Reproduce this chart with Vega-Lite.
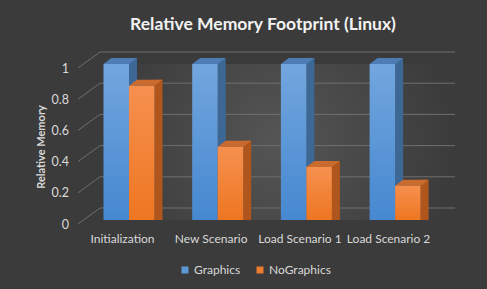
{
  "$schema": "https://vega.github.io/schema/vega-lite/v6.json",
  "width": 355,
  "height": 156,
  "autosize": {"type": "none"},
  "padding": {"left": 100, "top": 64, "right": 32, "bottom": 69},
  "background": "#3b3b3b",
  "config": {
    "font": "Lato",
    "view": {"stroke": null, "fill": {"gradient": "radial", "x1": 0.5, "y1": 0.5, "x2": 0.5, "y2": 0.5, "r1": 0, "r2": 0.5, "stops": [{"offset": 0, "color": "#555555"}, {"offset": 1, "color": "#3b3b3b"}]}}
  },
  "title": {
    "text": "Relative Memory Footprint (Linux)",
    "font": "Lato",
    "fontSize": 17.5,
    "fontWeight": "bold",
    "color": "#f2f2f2",
    "anchor": "middle",
    "frame": "group",
    "dx": -14.5,
    "offset": 18
  },
  "datasets": {
    "bars": [
      {"scenario": "Initialization", "series": "Graphics", "value": 1},
      {"scenario": "New Scenario", "series": "Graphics", "value": 1},
      {"scenario": "Load Scenario 1", "series": "Graphics", "value": 1},
      {"scenario": "Load Scenario 2", "series": "Graphics", "value": 1},
      {"scenario": "Initialization", "series": "NoGraphics", "value": 0.86},
      {"scenario": "New Scenario", "series": "NoGraphics", "value": 0.47},
      {"scenario": "Load Scenario 1", "series": "NoGraphics", "value": 0.34},
      {"scenario": "Load Scenario 2", "series": "NoGraphics", "value": 0.22}
    ],
    "ticks": [{"v": 0}, {"v": 0.2}, {"v": 0.4}, {"v": 0.6}, {"v": 0.8}, {"v": 1}]
  },
  "layer": [
    {
      "data": {"name": "ticks"},
      "mark": {"type": "rule", "color": "#6f6f6f", "strokeWidth": 1, "yOffset": -12},
      "encoding": {
        "y": {"field": "v", "type": "quantitative", "scale": {"domain": [0, 1], "nice": false},
          "axis": {"values": [0, 0.2, 0.4, 0.6, 0.8, 1], "labels": false, "offset": 22, "ticks": false, "domain": false, "grid": false,
            "title": "Relative Memory", "titleFont": "Lato", "titleFontSize": 11, "titleFontWeight": "bold", "titleColor": "#d9d9d9", "titlePadding": 31.5, "titleY": 82.5}}
      }
    },
    {
      "data": {"name": "ticks"},
      "mark": {"type": "rule", "color": "#6f6f6f", "strokeWidth": 1, "yOffset": 4, "y2Offset": -12},
      "encoding": {
        "x": {"value": -22},
        "x2": {"value": 0},
        "y": {"field": "v", "type": "quantitative"},
        "y2": {"field": "v"}
      }
    },
    {
      "data": {"name": "ticks"},
      "mark": {"type": "text", "align": "right", "baseline": "middle", "dy": 4.5, "font": "Lato", "fontSize": 12.5, "color": "#d9d9d9"},
      "encoding": {
        "x": {"value": -31},
        "y": {"field": "v", "type": "quantitative"},
        "text": {"field": "v", "type": "quantitative", "format": "~g"}
      }
    },
    {
      "data": {"name": "bars"},
      "transform": [{"filter": "datum.series === 'Graphics'"}],
      "mark": {"type": "bar", "color": "#3d6896", "width": 8, "xOffset": 4, "yOffset": -6},
      "encoding": {
        "x": {"field": "scenario", "type": "nominal", "sort": null,
          "scale": {"paddingInner": 0.5, "paddingOuter": 0.251, "align": 0.153},
          "axis": {"title": null, "labelAngle": 0, "ticks": false, "domain": false, "labelPadding": 13, "labelOffset": -6.5,
            "labelFont": "Lato", "labelFontSize": 12, "labelColor": "#d9d9d9"}},
        "y": {"field": "value", "type": "quantitative", "stack": null}
      }
    },
    {
      "data": {"name": "bars"},
      "transform": [{"filter": "datum.series === 'Graphics'"}],
      "mark": {"type": "point", "shape": "M-25.5,0L0,0L8,-6L-17.5,-6Z", "size": 4, "filled": true, "opacity": 1, "strokeWidth": 0, "color": "#4e7db5"},
      "encoding": {
        "x": {"field": "scenario", "type": "nominal", "sort": null},
        "y": {"field": "value", "type": "quantitative"}
      }
    },
    {
      "data": {"name": "bars"},
      "transform": [{"filter": "datum.series === 'Graphics'"}],
      "mark": {"type": "bar", "width": 25.5, "xOffset": -12.75,
        "color": {"gradient": "linear", "x1": 0, "y1": 0, "x2": 0, "y2": 1, "stops": [{"offset": 0, "color": "#72a6de"}, {"offset": 1, "color": "#4688d0"}]}},
      "encoding": {
        "x": {"field": "scenario", "type": "nominal", "sort": null},
        "y": {"field": "value", "type": "quantitative", "stack": null}
      }
    },
    {
      "data": {"name": "bars"},
      "transform": [{"filter": "datum.series === 'NoGraphics'"}],
      "mark": {"type": "bar", "color": "#b0561c", "width": 8, "xOffset": 29.5, "yOffset": -6},
      "encoding": {
        "x": {"field": "scenario", "type": "nominal", "sort": null},
        "y": {"field": "value", "type": "quantitative", "stack": null}
      }
    },
    {
      "data": {"name": "bars"},
      "transform": [{"filter": "datum.series === 'NoGraphics'"}],
      "mark": {"type": "point", "shape": "M0,0L25.5,0L33.5,-6L8,-6Z", "size": 4, "filled": true, "opacity": 1, "strokeWidth": 0, "color": "#c96a2e"},
      "encoding": {
        "x": {"field": "scenario", "type": "nominal", "sort": null},
        "y": {"field": "value", "type": "quantitative"}
      }
    },
    {
      "data": {"name": "bars"},
      "transform": [{"filter": "datum.series === 'NoGraphics'"}],
      "mark": {"type": "bar", "width": 25.5, "xOffset": 12.75,
        "color": {"gradient": "linear", "x1": 0, "y1": 0, "x2": 0, "y2": 1, "stops": [{"offset": 0, "color": "#f6904f"}, {"offset": 1, "color": "#ee7621"}]}},
      "encoding": {
        "x": {"field": "scenario", "type": "nominal", "sort": null},
        "y": {"field": "value", "type": "quantitative", "stack": null}
      }
    },
    {
      "data": {"name": "bars"},
      "mark": {"type": "bar", "opacity": 0, "width": 1},
      "encoding": {
        "x": {"field": "scenario", "type": "nominal", "sort": null},
        "y": {"field": "value", "type": "quantitative", "stack": null},
        "color": {"field": "series", "type": "nominal",
          "scale": {"domain": ["Graphics", "NoGraphics"], "range": ["#5b9bd5", "#ed7d31"]},
          "legend": {"title": null, "orient": "none", "direction": "horizontal", "legendX": 79, "legendY": 200,
            "symbolType": "square", "symbolSize": 49, "symbolOpacity": 1, "symbolStrokeWidth": 0, "labelOffset": 3, "columnPadding": 13,
            "labelFont": "Lato", "labelFontSize": 12, "labelColor": "#d9d9d9"}}
      }
    }
  ]
}
